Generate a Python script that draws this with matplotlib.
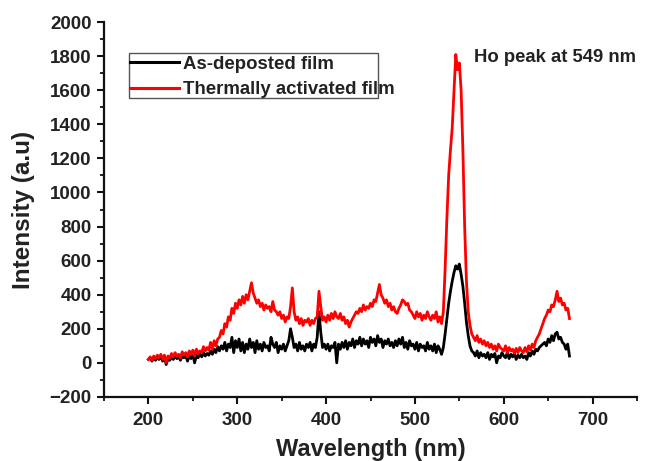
import numpy as np
import matplotlib
matplotlib.use("Agg")
import matplotlib.pyplot as plt
from matplotlib.patches import Rectangle
from matplotlib.ticker import MultipleLocator

plt.rcParams['font.family'] = ['Liberation Sans', 'DejaVu Sans']
plt.rcParams['font.weight'] = 'bold'

# wavelength grid (nm), 2 nm steps from 200 to 674
wl_start, wl_step, n_pts = 200, 2, 238
wavelength = wl_start + wl_step * np.arange(n_pts)

as_deposited = [
    20, 30, 10, 35, 15, 30, 20, 40, 10, 30,          # 200-218
    -10, 25, 15, 35, 20, 40, 25, 35, 15, 40,         # 220-238
    30, 45, 10, 40, 25, 50, 0, 45, 30, 55,           # 240-258
    35, 60, 40, 55, 45, 70, 50, 80, 60, 95,          # 260-278
    70, 100, 80, 120, 70, 110, 90, 150, 60, 130,     # 280-298
    90, 140, 70, 120, 60, 110, 80, 140, 90, 120,     # 300-318
    60, 130, 80, 110, 70, 120, 90, 100, 70, 150,     # 320-338
    110, 90, 120, 60, 100, 80, 110, 70, 100, 130,    # 340-358
    200, 150, 90, 110, 70, 120, 80, 100, 70, 110,    # 360-378
    90, 120, 70, 110, 90, 150, 300, 180, 90, 110,    # 380-398
    80, 110, 70, 100, 90, 120, 0, 110, 80, 120,      # 400-418
    90, 130, 80, 120, 100, 140, 90, 130, 110, 150,   # 420-438
    100, 140, 110, 130, 90, 150, 120, 140, 100, 160, # 440-458
    120, 140, 90, 130, 110, 140, 100, 120, 90, 130,  # 460-478
    100, 140, 110, 150, 90, 120, 80, 130, 100, 110,  # 480-498
    80, 120, 70, 110, 90, 100, 70, 120, 80, 100,     # 500-518
    70, 110, 60, 100, 80, 50, 90, 170, 260, 350,     # 520-538
    420, 480, 530, 570, 550, 580, 520, 450, 350, 240,# 540-558
    160, 100, 70, 60, 40, 70, 30, 60, 40, 50,        # 560-578
    30, 60, 20, 50, 35, 55, 0, 40, 30, 60,           # 580-598
    40, 30, 60, 25, 50, 35, 55, 20, 45, 30,          # 600-618
    50, 30, 40, 20, 60, 40, 70, 50, 80, 70,          # 620-638
    90, 100, 110, 120, 100, 140, 120, 160, 130, 170, # 640-658
    180, 140, 150, 120, 110, 80, 110, 40,            # 660-674
]

thermally_activated = [
    20, 35, 15, 40, 25, 45, 30, 50, 20, 45,          # 200-218
    0, 40, 30, 55, 35, 60, 40, 50, 30, 65,           # 220-238
    45, 60, 35, 70, 50, 75, 40, 80, 55, 70,          # 240-258
    60, 95, 70, 90, 75, 120, 80, 130, 100, 140,      # 260-278
    150, 190, 170, 230, 210, 270, 250, 320, 290, 350,# 280-298
    320, 370, 340, 390, 350, 400, 370, 420, 470, 410,# 300-318
    380, 350, 370, 330, 350, 310, 340, 320, 330, 300,# 320-338
    360, 310, 300, 280, 300, 260, 280, 240, 270, 260,# 340-358
    330, 440, 300, 250, 270, 230, 260, 220, 250, 240,# 360-378
    260, 220, 250, 230, 260, 270, 420, 330, 250, 270,# 380-398
    240, 280, 250, 290, 260, 300, 270, 260, 290, 250,# 400-418
    270, 230, 250, 210, 240, 260, 280, 300, 290, 320,# 420-438
    300, 340, 310, 330, 320, 350, 330, 370, 360, 410,# 440-458
    460, 400, 380, 350, 370, 330, 350, 310, 330, 300,# 460-478
    290, 320, 340, 370, 360, 340, 350, 310, 300, 280,# 480-498
    260, 300, 270, 290, 250, 280, 260, 300, 270, 250,# 500-518
    280, 260, 300, 240, 270, 230, 300, 550, 850, 1100,   # 520-538
    1250, 1380, 1600, 1810, 1720, 1760, 1600, 1250, 800, 480, # 540-558
    300, 220, 170, 150, 130, 160, 120, 140, 110, 130,# 560-578
    100, 120, 90, 110, 80, 100, 70, 110, 90, 80,     # 580-598
    70, 100, 60, 90, 70, 80, 55, 85, 60, 90,         # 600-618
    70, 60, 90, 65, 100, 75, 110, 90, 130, 150,      # 620-638
    170, 200, 230, 260, 280, 310, 300, 340, 330, 370,# 640-658
    420, 360, 380, 340, 350, 310, 320, 260,          # 660-674
]

series_labels = ["As-deposted film", "Thermally activated film"]
x_ticks = [200, 300, 400, 500, 600, 700]
y_ticks = [-200, 0, 200, 400, 600, 800, 1000, 1200, 1400, 1600, 1800, 2000]

fig = plt.figure(figsize=(6.5, 4.61), dpi=100)
ax = fig.add_axes([0.16, 0.139, 0.82, 0.813])

l1, = ax.plot(wavelength, as_deposited, color='black', lw=2.0, label=series_labels[0])
l2, = ax.plot(wavelength, thermally_activated, color='#ff0000', lw=2.0, label=series_labels[1])

ax.set_xlim(150, 750)
ax.set_ylim(-200, 2000)
ax.set_xticks(x_ticks)
ax.set_yticks(y_ticks)
ax.xaxis.set_minor_locator(MultipleLocator(50))
ax.yaxis.set_minor_locator(MultipleLocator(100))

for s in ['top', 'right']:
    ax.spines[s].set_visible(False)
for s in ['left', 'bottom']:
    ax.spines[s].set_linewidth(1.6)
    ax.spines[s].set_color('#111111')

ax.tick_params(which='major', direction='out', length=5, width=1.5, colors='#111111',
               labelsize=13.5, labelcolor='#222222')
ax.tick_params(axis='y', which='major', pad=4)
ax.tick_params(axis='x', which='major', pad=6)
ax.tick_params(which='minor', direction='out', length=3, width=1.3, colors='#111111')
for lab in ax.get_xticklabels() + ax.get_yticklabels():
    lab.set_fontweight('bold')

ax.set_xlabel("Wavelength (nm)", fontsize=17, fontweight='bold', color='#222222', labelpad=6)
ax.set_ylabel("Intensity (a.u)", fontsize=17.5, fontweight='bold', color='#222222', labelpad=10)

leg = ax.legend(handles=[l1, l2], loc='upper left', bbox_to_anchor=(0.049, 0.910),
                frameon=False, fontsize=13.4, handlelength=2.6, handletextpad=0.25,
                borderpad=0, labelspacing=0.44, borderaxespad=0)
for t in leg.get_texts():
    t.set_fontweight('bold')
    t.set_color('#222222')
for h in leg.legend_handles:
    h.set_linewidth(2.2)

ax.add_patch(Rectangle((0.047, 0.797), 0.467, 0.12, transform=ax.transAxes,
                       fill=False, edgecolor='#555555', lw=1.0, zorder=5))

ax.text(0.695, 0.905, "Ho peak at 549 nm", transform=ax.transAxes, fontsize=13.3,
        fontweight='bold', color='#222222', va='center', ha='left')

fig.savefig("out.png", dpi=100)
